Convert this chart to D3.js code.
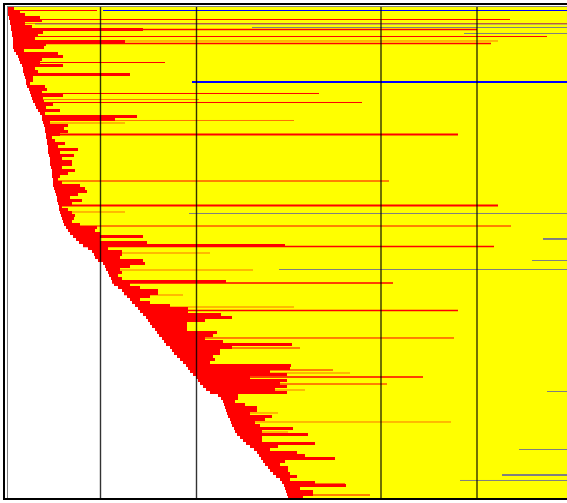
<!DOCTYPE html>
<html>
<head>
<meta charset="utf-8">
<script src="https://cdn.jsdelivr.net/npm/d3@7"></script>
<style>
  body { margin: 0; background: #fff; }
  svg { display: block; }
</style>
</head>
<body>
<svg width="567" height="503"></svg>
<script>
/* start of each task (days from origin), one entry per row */
var starts = [
  0,0,0,1,2,2,3,3,4,4,
  5,5,5,5,6,8,10,11,12,14,
  15,15,16,17,18,18,19,21,22,23,
  24,25,27,28,30,32,34,34,35,36,
  37,37,38,38,39,39,40,40,40,41,
  42,42,42,43,44,44,44,45,45,45,
  46,47,48,49,49,50,51,51,52,53,
  54,55,56,58,60,62,65,68,71,75,
  80,84,86,87,90,95,97,98,100,101,
  103,104,106,110,114,116,119,122,124,127,
  130,132,135,138,140,142,144,147,149,151,
  154,156,158,162,164,166,169,172,175,178,
  180,182,185,188,190,192,195,198,202,210,
  213,215,216,217,218,219,220,222,223,224,
  226,227,229,232,235,238,242,246,249,251,
  253,255,257,260,262,265,268,272,274,276,
  277,278,279,280
];

/* end of the main (red) part of each task */
var ends = [
  6,12,17,32,34,17,24,135,35,30,
  27,117,38,36,16,50,55,34,32,55,
  27,30,122,25,25,22,37,39,34,55,
  35,36,45,38,52,37,129,107,42,60,
  56,60,52,44,47,57,50,70,52,66,
  54,64,64,54,67,60,52,50,54,72,
  77,79,70,62,74,64,54,60,64,67,
  66,64,72,89,87,92,135,92,139,277,
  100,114,114,112,135,137,122,112,114,110,
  114,218,122,132,150,150,142,132,142,162,
  180,180,213,224,197,179,179,179,209,205,
  197,215,284,224,212,212,205,207,202,283,
  282,262,279,242,279,272,279,267,279,230,
  230,227,237,249,249,242,264,257,247,252,
  285,254,300,254,254,307,270,262,289,297,
  327,277,272,280,280,282,289,282,307,338,
  292,305,305,295
];

/* long red extensions: [row, from, to, kind] */
var redLines = [
  [1.17, 0, 89, "thin"], [4.17, 1, 502, "thin"], [5.5, 2, 592, "faint"],
  [7.5, 3, 469, "bold"], [9.83, 4, 539, "thin"], [11.33, 5, 490, "faint"],
  [12.17, 5, 483, "bold"], [18.5, 12, 157, "thin"], [28.83, 22, 311, "thin"],
  [30.83, 24, 191, "faint"], [31.83, 25, 354, "thin"], [37.83, 34, 286, "faint"],
  [38.67, 35, 117, "faint"], [42.5, 38, 450, "heavy"], [58, 45, 381, "thin"],
  [66.17, 51, 490, "heavy"], [68.33, 52, 117, "faint"], [73, 58, 503, "thin"],
  [79.83, 75, 486, "bold"], [82, 86, 202, "faint"], [87.67, 98, 245, "faint"],
  [92, 104, 385, "bold"], [96, 116, 175, "faint"], [100, 130, 286, "faint"],
  [101.17, 132, 450, "bold"], [103.67, 138, 224, "faint"], [110.33, 154, 446, "thin"],
  [113.67, 162, 292, "thin"], [121, 182, 325, "thin"], [122, 185, 342, "faint"],
  [123.33, 188, 415, "bold"], [125.67, 192, 379, "thin"], [127.67, 198, 297, "faint"],
  [135.33, 219, 270, "faint"], [138.33, 223, 443, "faint"], [141.67, 227, 280, "faint"],
  [158.83, 274, 337, "faint"], [162.67, 279, 362, "thin"]
];

/* blue follow-up periods: [row, from, kind], running past the right edge */
var blueLines = [
  [1.17, 95, "solid"], [5.67, 27, "faint"], [6.83, 244, "faint"],
  [8.83, 456, "faint"], [25, 184, "heavy"], [68.83, 181, "faint"],
  [77.33, 535, "solid"], [84.5, 524, "faint"], [87.5, 271, "faint"],
  [128.17, 539, "faint"], [147.5, 511, "faint"], [156, 494, "solid"],
  [157.83, 452, "faint"]
];

/* vertical reference dates */
var markers = [92.5, 188.5, 373, 469];

var svg = d3.select("svg");
var n = starts.length;
var maxDay = 600;

var x = d3.scaleLinear().domain([0, maxDay]).range([8, 608]);
var y = d3.scaleLinear().domain([0, n]).range([7, 499]);

var redStyle = {
  thin: {w: 1, a: 1},
  bold: {w: 1.6, a: 1},
  heavy: {w: 2.2, a: 1},
  faint: {w: 1, a: 0.55}
};
var blueStyle = {
  solid: {w: 1, a: 1},
  heavy: {w: 2.2, a: 1},
  faint: {w: 1, a: 0.5}
};

var rows = svg.append("g").attr("shape-rendering", "crispEdges");

/* yellow: task open from its start onwards */
rows.selectAll("rect.open")
  .data(starts)
  .enter().append("rect")
    .attr("class", "open")
    .attr("x", function(d) { return x(d); })
    .attr("y", function(d, i) { return y(i); })
    .attr("width", function(d) { return x(maxDay) - x(d); })
    .attr("height", function(d, i) { return y(i + 1) - y(i); })
    .attr("fill", "#ffff00");

/* red: main duration */
rows.selectAll("rect.main")
  .data(ends)
  .enter().append("rect")
    .attr("class", "main")
    .attr("x", function(d, i) { return x(starts[i]); })
    .attr("y", function(d, i) { return y(i); })
    .attr("width", function(d, i) { return x(d) - x(starts[i]); })
    .attr("height", function(d, i) { return y(i + 1) - y(i); })
    .attr("fill", "#ff0000");

svg.append("g").selectAll("line")
  .data(redLines)
  .enter().append("line")
    .attr("x1", function(d) { return x(d[1]); })
    .attr("x2", function(d) { return x(d[2]); })
    .attr("y1", function(d) { return y(d[0]); })
    .attr("y2", function(d) { return y(d[0]); })
    .attr("stroke", "#ff0000")
    .attr("stroke-width", function(d) { return redStyle[d[3]].w; })
    .attr("stroke-opacity", function(d) { return redStyle[d[3]].a; });

svg.append("g").selectAll("line")
  .data(blueLines)
  .enter().append("line")
    .attr("x1", function(d) { return x(d[1]); })
    .attr("x2", x(maxDay))
    .attr("y1", function(d) { return y(d[0]); })
    .attr("y2", function(d) { return y(d[0]); })
    .attr("stroke", "#0000ff")
    .attr("stroke-width", function(d) { return blueStyle[d[2]].w; })
    .attr("stroke-opacity", function(d) { return blueStyle[d[2]].a; });

svg.append("g").selectAll("line")
  .data(markers)
  .enter().append("line")
    .attr("x1", function(d) { return x(d); })
    .attr("x2", function(d) { return x(d); })
    .attr("y1", y(0))
    .attr("y2", y(n))
    .attr("stroke", "#000")
    .attr("stroke-opacity", 0.8)
    .attr("stroke-width", 1.4);

/* frame */
svg.append("line")
  .attr("x1", 7.5).attr("x2", 7.5)
  .attr("y1", 6).attr("y2", 499)
  .attr("stroke", "#808080");
svg.append("line")
  .attr("x1", 7).attr("x2", 600)
  .attr("y1", 6.5).attr("y2", 6.5)
  .attr("stroke", "#808080");
svg.append("rect")
  .attr("x", 4).attr("y", 4)
  .attr("width", 620).attr("height", 495)
  .attr("fill", "none")
  .attr("stroke", "#000")
  .attr("stroke-width", 2);
</script>
</body>
</html>
